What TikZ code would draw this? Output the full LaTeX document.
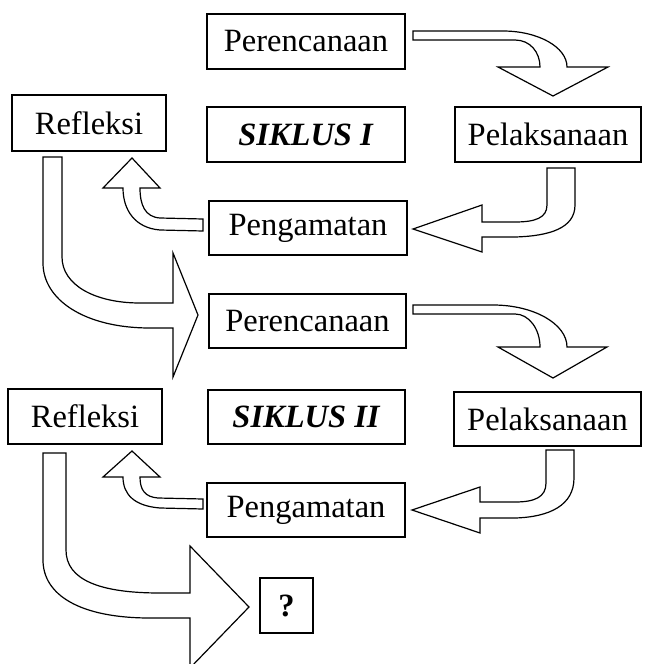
\documentclass[tikz,border=0pt]{standalone}
\usepackage{fontspec}
\setmainfont{Liberation Serif}
\tikzset{
  box/.style={draw, line width=1.5pt, rectangle, inner sep=0pt, font=\fontsize{32.5}{38}\selectfont},
  blockarrow/.style={draw, fill=white, line width=1.2pt, line join=miter}
}

\begin{document}
\begin{tikzpicture}[x=1pt,y=-1pt]
\useasboundingbox (0,0) rectangle (647,664);
% siklus I
\node[box, minimum width=198pt, minimum height=55pt] (per1) at (306,41.5) {Perencanaan};
\node[box, minimum width=154pt, minimum height=56pt] (ref1) at (89,123) {Refleksi};
\node[box, minimum width=198pt, minimum height=55pt] (sik1) at (306,134.5) {\textbf{\textit{SIKLUS I}}};
\node[box, minimum width=186pt, minimum height=55pt] (pel1) at (548,134.5) {Pelaksanaan};
\node[box, minimum width=198pt, minimum height=54pt] (pen1) at (308,228) {Pengamatan};
% siklus II
\node[box, minimum width=197pt, minimum height=54pt] (per2) at (307.5,321) {Perencanaan};
\node[box, minimum width=154pt, minimum height=55pt] (ref2) at (85,416.5) {Refleksi};
\node[box, minimum width=197pt, minimum height=54pt] (sik2) at (306.5,417) {\textbf{\textit{SIKLUS II}}};
\node[box, minimum width=187pt, minimum height=54pt] (pel2) at (547.5,419) {Pelaksanaan};
\node[box, minimum width=198pt, minimum height=54pt] (pen2) at (306,510) {Pengamatan};
\node[box, minimum width=53pt, minimum height=55pt] (q) at (286.5,605.5) {\textbf{?}};

% perencanaan -> pelaksanaan
\draw[blockarrow] (413,31) -- (503,31) .. controls (538,31) and (567,47) .. (567,67)
  -- (608,67) -- (553,96) -- (498,67) -- (540,67)
  .. controls (540,52) and (530,40) .. (515,40) -- (413,40) -- cycle;
\draw[blockarrow] (413,305) -- (493,305) .. controls (534,305) and (567,324) .. (567,347)
  -- (607,347) -- (553,378) -- (498,347) -- (540,347)
  .. controls (540,329) and (529,314) .. (515,314) -- (413,314) -- cycle;
% pelaksanaan -> pengamatan
\draw[blockarrow] (547,168) -- (575,168) -- (575,205) .. controls (575,228) and (550,236) .. (515,237)
  -- (482,237) -- (482,252) -- (413,229) -- (482,205) -- (482,222) -- (515,222)
  .. controls (535,222) and (547,218) .. (547,205) -- cycle;
\draw[blockarrow] (546,450) -- (574,450) -- (574,478) .. controls (574,505) and (550,517) .. (515,518)
  -- (480,518) -- (480,533) -- (412,510) -- (480,487) -- (480,502) -- (515,502)
  .. controls (535,502) and (546,497) .. (546,483) -- cycle;
% pengamatan -> refleksi
\draw[blockarrow] (203,219) -- (203,231) -- (160,230) .. controls (135,228) and (123,210) .. (123,188)
  -- (103,188) -- (132,158) -- (160,188) -- (140,188)
  .. controls (140,205) and (145,217) .. (160,218) -- cycle;
\draw[blockarrow] (203,499) -- (203,509) -- (160,508) .. controls (135,506) and (123,495) .. (123,477)
  -- (103,477) -- (132,451) -- (160,477) -- (140,477)
  .. controls (140,490) and (145,497) .. (158,498) -- cycle;
% refleksi -> perencanaan / ?
\draw[blockarrow] (43,157) -- (62,157) -- (62,257) .. controls (62,285) and (95,303) .. (140,303)
  -- (173,303) -- (173,253) -- (198,315) -- (173,377) -- (173,328) -- (150,328)
  .. controls (85,328) and (43,300) .. (43,263) -- cycle;
\draw[blockarrow] (43,453) -- (66,453) -- (66,550) .. controls (66,580) and (100,593) .. (160,593)
  -- (190,593) -- (190,546) -- (249,607) -- (190,668) -- (190,618) -- (150,618)
  .. controls (80,618) and (43,595) .. (43,560) -- cycle;
\end{tikzpicture}
\end{document}
